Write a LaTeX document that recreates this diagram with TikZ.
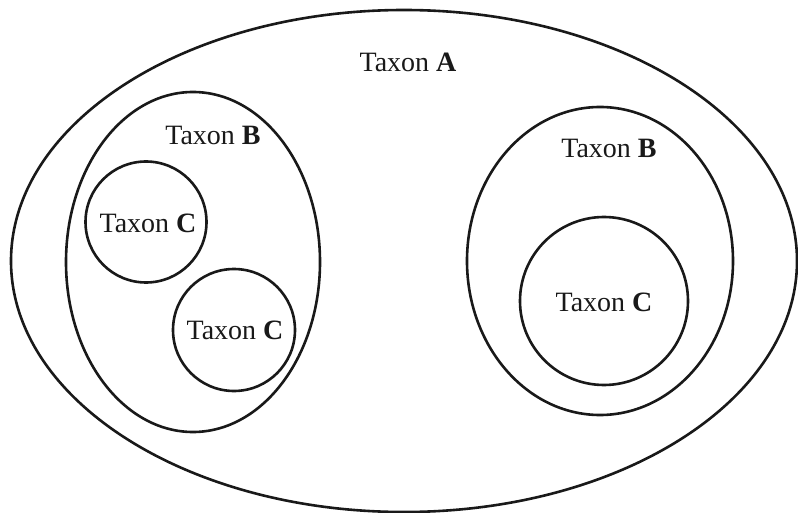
\documentclass[tikz,border=0pt]{standalone}
\usepackage{fontspec}
\setmainfont{Liberation Serif}
\usetikzlibrary{shapes.geometric}
\begin{document}
\begin{tikzpicture}[x=1pt,y=-1pt,
  ring/.style={draw=black!90, line width=2.6pt, ellipse, inner sep=0pt, outer sep=0pt},
  lbl/.style={font=\fontsize{28}{30}\selectfont, text=black!90, inner sep=0pt}]
\useasboundingbox (0,0) rectangle (798,513);
% outer ellipse A
\node[ring, minimum width=786, minimum height=502] (A) at (404,261) {};
\node[lbl] (tA) at (408,62) {Taxon \textbf{A}};
% left B
\node[ring, minimum width=254, minimum height=340] (B1) at (193,262) {};
\node[lbl] (tB1) at (213,135) {Taxon \textbf{B}};
\node[ring, circle, minimum size=121] (C1) at (146,222) {};
\node[lbl] (tC1) at (148,223) {Taxon \textbf{C}};
\node[ring, circle, minimum size=122] (C2) at (234,330) {};
\node[lbl] (tC2) at (235,330) {Taxon \textbf{C}};
% right B
\node[ring, minimum width=266, minimum height=308] (B2) at (600,261) {};
\node[lbl] (tB2) at (609,148) {Taxon \textbf{B}};
\node[ring, circle, minimum size=168] (C3) at (604,301) {};
\node[lbl] (tC3) at (604,302) {Taxon \textbf{C}};
\end{tikzpicture}
\end{document}
